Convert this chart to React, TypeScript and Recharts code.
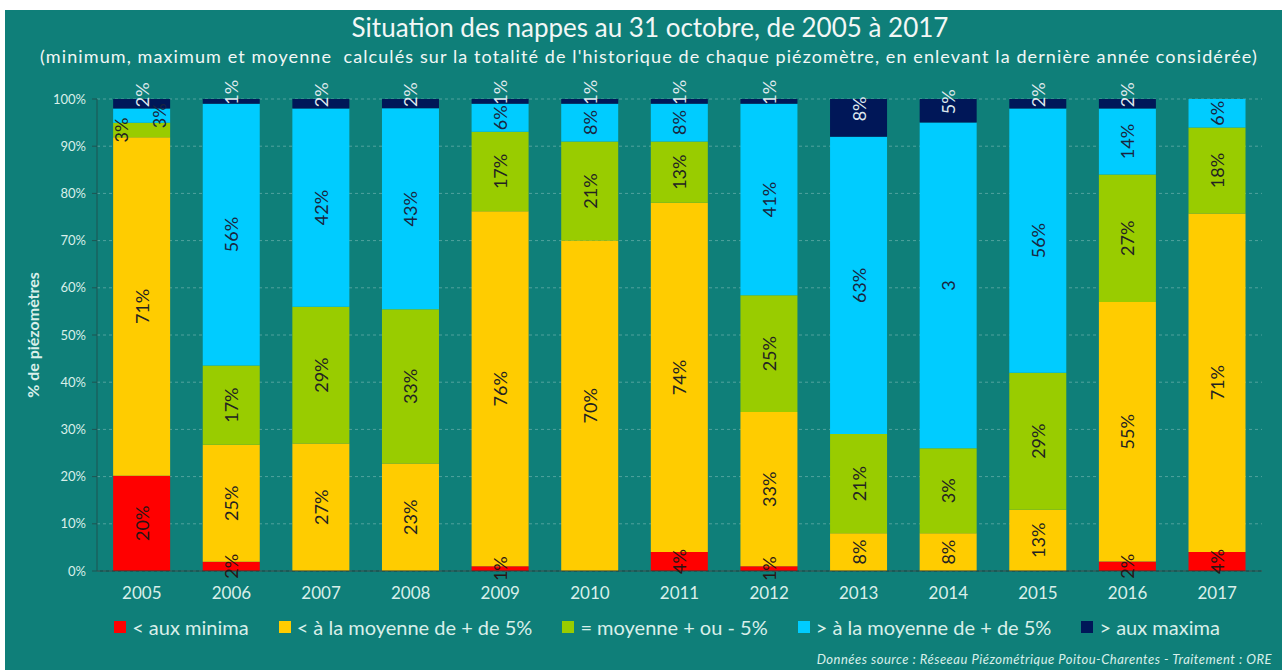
import { BarChart, Bar, XAxis, YAxis, CartesianGrid, Legend, LabelList } from 'recharts';

const YEARS = ['2005', '2006', '2007', '2008', '2009', '2010', '2011', '2012', '2013', '2014', '2015', '2016', '2017'];
const AUX_MINIMA = [20, 2, 0, 0, 1, 0, 4, 1, 0, 0, 0, 2, 4];
const SOUS_MOYENNE = [71, 25, 27, 23, 76, 70, 74, 33, 8, 8, 13, 55, 71];
const MOYENNE = [3, 17, 29, 33, 17, 21, 13, 25, 21, 18, 29, 27, 18];
const SUR_MOYENNE = [3, 56, 42, 43, 6, 8, 8, 41, 63, 69, 56, 14, 6];
const AUX_MAXIMA = [2, 1, 2, 2, 1, 1, 1, 1, 8, 5, 2, 2, 0];
const Y_TICKS = [0, 0.1, 0.2, 0.3, 0.4, 0.5, 0.6, 0.7, 0.8, 0.9, 1];

// labels as printed on the original (2014 has two typos)
const LABEL_TEXT: Record<string, string> = {
  'moyenne-2014': '3%',
  'surMoyenne-2014': '3',
};
const LABEL_DX: Record<string, number> = {
  'moyenne-2005': -21,
  'surMoyenne-2005': 17,
};

const SERIES = [
  { key: 'minima', name: '< aux minima', color: '#ff0000', text: '#2a1414', dy: 0, values: AUX_MINIMA },
  { key: 'sousMoyenne', name: '< à la moyenne de + de 5%', color: '#ffcc00', text: '#222222', dy: 0, values: SOUS_MOYENNE },
  { key: 'moyenne', name: '= moyenne + ou - 5%', color: '#99cc00', text: '#222222', dy: 0, values: MOYENNE },
  { key: 'surMoyenne', name: '> à la moyenne de + de 5%', color: '#00ccff', text: '#1a2540', dy: 0, values: SUR_MOYENNE },
  { key: 'maxima', name: '> aux maxima', color: '#001758', text: '#dfe9ee', dy: -9, values: AUX_MAXIMA },
];

const data = YEARS.map((year, i) => {
  const row: Record<string, string | number> = { year };
  SERIES.forEach((s) => { row[s.key] = s.values[i]; });
  return row;
});

const TEAL = '#0f7f79';
const LIGHT = '#d9efea';
const FONT = 'Lato, "Open Sans", sans-serif';

function makeLabel(s: (typeof SERIES)[number]) {
  return (props: any) => {
    const { x, y, width, height, value } = props;
    const i = YEARS.indexOf(String(value));
    const v = s.values[i];
    if (!v) return null;
    const id = `${s.key}-${YEARS[i]}`;
    const text = LABEL_TEXT[id] ?? `${v}%`;
    const cx = Number(x) + Number(width) / 2 + (LABEL_DX[id] ?? 0);
    const cy = Number(y) + Number(height) / 2 + s.dy;
    return (
      <text
        key={id}
        x={cx}
        y={cy}
        transform={`rotate(-90 ${cx} ${cy})`}
        textAnchor="middle"
        dominantBaseline="central"
        fill={s.text}
        fontSize={18}
        fontFamily={FONT}
      >
        {text}
      </text>
    );
  };
}

function LegendContent() {
  return (
    <div style={{ display: 'flex', justifyContent: 'center', gap: 30, fontFamily: FONT, fontSize: 20, color: LIGHT, paddingLeft: 52 }}>
      {SERIES.map((s) => (
        <div key={s.key} style={{ display: 'flex', alignItems: 'center', gap: 6 }}>
          <span style={{ width: 12, height: 12, background: s.color, display: 'inline-block' }} />
          <span>{s.name}</span>
        </div>
      ))}
    </div>
  );
}

function YTitle(props: any) {
  const vb = props.viewBox;
  const cx = 32;
  const cy = vb.y + vb.height / 2;
  return (
    <text x={cx} y={cy} transform={`rotate(-90 ${cx} ${cy})`} textAnchor="middle" dominantBaseline="central" fill={LIGHT} fontSize={16} fontWeight="bold" fontFamily={FONT}>
      % de piézomètres
    </text>
  );
}

export default function App() {
  return (
    <div style={{ position: 'absolute', left: 0, top: 0, width: 1282, height: 670, background: '#fff', overflow: 'hidden' }}>
      <div style={{ position: 'absolute', left: 5, top: 10, width: 1277, height: 660, background: TEAL }} />
      <div style={{ position: 'absolute', left: 0, top: 11, width: 1300, textAlign: 'center', color: '#f2f7f6', fontFamily: FONT, fontSize: 26 }}>
        Situation des nappes au 31 octobre, de 2005 à 2017
      </div>
      <div style={{ position: 'absolute', left: 0, top: 45, width: 1298, textAlign: 'center', color: '#f2f7f6', fontFamily: FONT, fontSize: 18, letterSpacing: 1.1, whiteSpace: 'pre' }}>
        {'(minimum, maximum et moyenne  calculés sur la totalité de l\'historique de chaque piézomètre, en enlevant la dernière année considérée)'}
      </div>
      <div style={{ position: 'absolute', left: 0, top: 0 }}>
        <BarChart
          width={1282}
          height={670}
          data={data}
          stackOffset="expand"
          barCategoryGap="18%"
          margin={{ top: 99, right: 20, left: 37, bottom: 45 }}
        >
          <CartesianGrid vertical={false} stroke="rgba(255,255,255,0.28)" strokeDasharray="3 3" />
          <XAxis
            dataKey="year"
            height={30}
            tickLine={false}
            tickMargin={10}
            axisLine={{ stroke: '#263636' }}
            tick={{ fill: LIGHT, fontSize: 17, fontFamily: FONT }}
          />
          <YAxis
            width={60}
            ticks={Y_TICKS}
            domain={[0, 1]}
            interval={0}
            tickFormatter={(v: number) => `${Math.round(v * 100)}%`}
            tick={{ fill: LIGHT, fontSize: 13, fontFamily: FONT }}
            tickSize={5}
            tickMargin={6}
            axisLine={{ stroke: '#1f5553' }}
            tickLine={{ stroke: '#1f5553' }}
            label={{ content: YTitle }}
          />
          <Legend verticalAlign="bottom" content={<LegendContent />} wrapperStyle={{ bottom: 31, left: 0, width: 1282 }} />
          {SERIES.map((s) => (
            <Bar key={s.key} dataKey={s.key} name={s.name} stackId="a" fill={s.color} isAnimationActive={false}>
              <LabelList dataKey="year" content={makeLabel(s)} />
            </Bar>
          ))}
        </BarChart>
      </div>
      <div style={{ position: 'absolute', right: 10, top: 651, color: LIGHT, fontFamily: FONT, fontSize: 13, letterSpacing: 0.5, fontStyle: 'italic' }}>
        Données source : Réseeau Piézométrique Poitou-Charentes - Traitement : ORE
      </div>
    </div>
  );
}
